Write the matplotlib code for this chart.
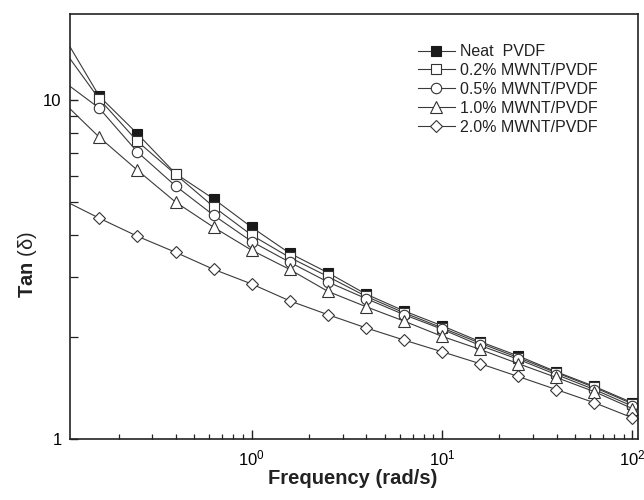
import math
import matplotlib
matplotlib.use("Agg")
import matplotlib.pyplot as plt
from matplotlib.ticker import FixedLocator, FuncFormatter, NullFormatter, LogLocator

freq = [0.1, 0.158, 0.251, 0.398, 0.631, 1.0, 1.58, 2.51, 3.98, 6.31, 10, 15.8, 25.1, 39.8, 63.1, 100]
neat = [15.9, 10.3, 7.97, 6.08, 5.12, 4.22, 3.54, 3.10, 2.68, 2.39, 2.16, 1.94, 1.76, 1.58, 1.43, 1.28]
p02 = [14.4, 10.1, 7.57, 6.05, 4.85, 4.00, 3.44, 3.02, 2.64, 2.36, 2.13, 1.92, 1.74, 1.57, 1.42, 1.27]
p05 = [11.5, 9.49, 7.04, 5.59, 4.58, 3.83, 3.33, 2.91, 2.60, 2.33, 2.11, 1.89, 1.72, 1.55, 1.40, 1.25]
p10 = [10.0, 7.79, 6.22, 5.01, 4.22, 3.61, 3.17, 2.73, 2.46, 2.23, 2.01, 1.84, 1.67, 1.52, 1.38, 1.23]
p20 = [5.11, 4.49, 3.97, 3.56, 3.17, 2.87, 2.56, 2.33, 2.13, 1.96, 1.81, 1.67, 1.53, 1.40, 1.28, 1.155]

labels = ["Neat  PVDF", "0.2% MWNT/PVDF", "0.5% MWNT/PVDF", "1.0% MWNT/PVDF", "2.0% MWNT/PVDF"]
series = [neat, p02, p05, p10, p20]

plt.rcParams['font.family'] = ["Liberation Sans", "DejaVu Sans"]
plt.rcParams['mathtext.fontset'] = 'custom'
plt.rcParams['mathtext.rm'] = 'Liberation Sans'
plt.rcParams['mathtext.bf'] = 'Liberation Sans:bold'
plt.rcParams['mathtext.it'] = 'Liberation Sans:italic'

fig = plt.figure(figsize=(6.44, 5.0), dpi=100)
ax = fig.add_axes([70/644, 61/500, 568/644, 425/500])

styles = [
    dict(marker='s', mfc='#1a1a1a', mec='#1a1a1a', ms=6.5),
    dict(marker='s', mfc='white', mec='#333333', ms=6.5),
    dict(marker='o', mfc='white', mec='#333333', ms=7.5),
    dict(marker='^', mfc='white', mec='#333333', ms=8),
    dict(marker='D', mfc='white', mec='#333333', ms=6.5),
]
for y, lab, st in zip(series, labels, styles):
    ax.plot(freq, y, color='#3a3a3a', lw=0.8, mew=0.8, label=lab, **st)

ax.set_xscale('log')
ax.set_yscale('log')
ax.set_xlim(0.111, 107)
ax.set_ylim(1, 18)

ax.xaxis.set_major_locator(FixedLocator([1, 10, 100]))
ax.xaxis.set_major_formatter(FuncFormatter(lambda v, p: r'$10^{%d}$' % round(math.log10(v))))
ax.xaxis.set_minor_locator(LogLocator(base=10, subs=[2, 3, 4, 5, 6, 7, 8, 9], numticks=20))
ax.xaxis.set_minor_formatter(NullFormatter())
ax.yaxis.set_major_locator(FixedLocator([1, 10]))
ax.yaxis.set_major_formatter(FuncFormatter(lambda v, p: '%d' % round(v)))
ax.yaxis.set_minor_locator(LogLocator(base=10, subs=[2, 3, 4, 5, 6, 7, 8, 9], numticks=20))
ax.yaxis.set_minor_formatter(NullFormatter())

ax.tick_params(axis='both', which='both', direction='in', top=False, right=False, color='#222222')
ax.tick_params(axis='x', which='major', length=6.5, width=1.0, pad=7, labelsize=12)
ax.tick_params(axis='x', which='minor', length=3.8, width=0.9)
ax.tick_params(axis='y', which='major', length=6, width=1.0, pad=6, labelsize=12)
ax.tick_params(axis='y', which='minor', length=5.5, width=0.9)
for s in ax.spines.values():
    s.set_linewidth(1.2)
    s.set_color('#222222')

ax.set_xlabel('Frequency (rad/s)', fontsize=14.5, fontweight='bold', color='#222222')
ax.xaxis.set_label_coords(0.497, -0.07)
ax.xaxis.label.set_va('top')
ax.set_ylabel(r'$\mathbf{Tan}$ (δ)', fontsize=14.5, color='#222222')
ax.yaxis.set_label_coords(-0.055, 0.41)

leg = ax.legend(loc='upper left', bbox_to_anchor=(0.6127, 0.929), frameon=False,
                borderpad=0, borderaxespad=0, fontsize=11.5, handlelength=2.3,
                handletextpad=0.36, labelspacing=0.24)
for t in leg.get_texts():
    t.set_color('#222222')

fig.savefig('out.png', dpi=100)
